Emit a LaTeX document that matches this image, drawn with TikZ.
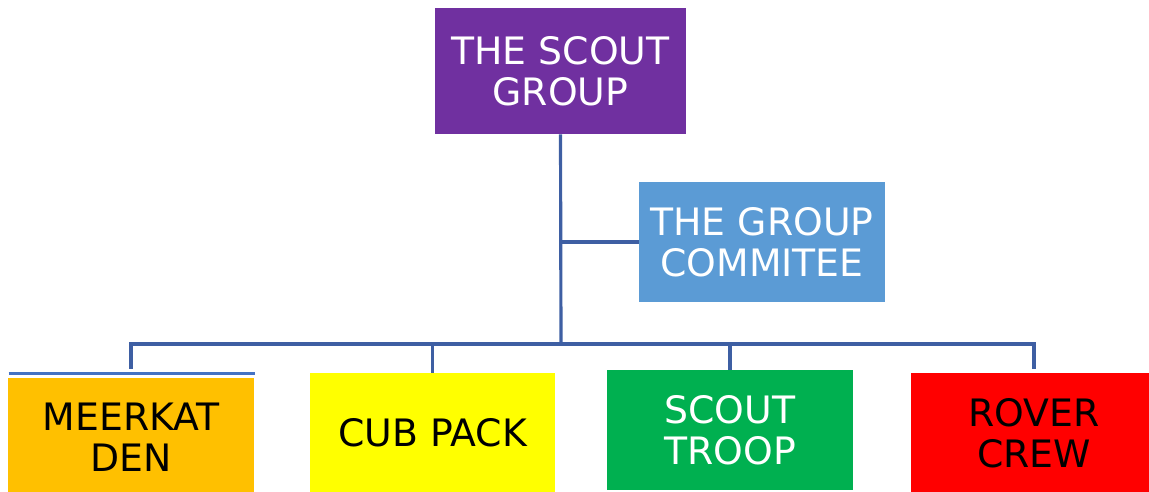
\documentclass[tikz,border=0pt]{standalone}
\usepackage{fontspec}
\setmainfont{DejaVu Sans}
\definecolor{cpurple}{HTML}{7030A0}
\definecolor{cblue}{HTML}{5B9BD5}
\definecolor{corange}{HTML}{FFC000}
\definecolor{cyellow}{HTML}{FFFF00}
\definecolor{cgreen}{HTML}{00B050}
\definecolor{cred}{HTML}{FF0000}
\definecolor{cline}{HTML}{3E5FA3}
\definecolor{cline2}{HTML}{4472C4}
\tikzset{
  box/.style={draw=none, inner sep=0pt, align=center, font=\fontsize{21.5}{23.5}\selectfont},
  conn/.style={draw=cline, line width=1.8pt}
}
\begin{document}
\begin{tikzpicture}[x=0.02cm,y=-0.02cm]
\useasboundingbox (0,0) rectangle (1149,492);
\node[box, fill=cpurple, text=white, minimum width=251*0.02cm, minimum height=126*0.02cm] (sg) at (560.5,71) {THE SCOUT\\GROUP};
\node[box, fill=cblue, text=white, minimum width=246*0.02cm, minimum height=120*0.02cm] (gc) at (762,242) {THE GROUP\\COMMITEE};
\node[box, fill=corange, text=black, minimum width=246*0.02cm, minimum height=118*0.02cm] (md) at (131,437) {MEERKAT\\DEN};
\node[box, fill=cyellow, text=black, minimum width=245*0.02cm, minimum height=119*0.02cm] (cp) at (432.5,432.5) {CUB PACK};
\node[box, fill=cgreen, text=white, minimum width=246*0.02cm, minimum height=120*0.02cm] (st) at (730,430) {SCOUT\\TROOP};
\node[box, fill=cred, text=black, minimum width=246*0.02cm, minimum height=120*0.02cm] (rc) at (1034,433) {ROVER\\CREW};
\coordinate (hub) at (561,344);
\coordinate (gcj) at (561,242);
\draw[conn] (sg.south) -- (hub);
\draw[conn] (gcj) -- (gc.west);
\draw[conn] (hub) -| (131,369);
\draw[conn] (hub) -| (cp.north);
\draw[conn] (hub) -| (st.north);
\draw[conn] (hub) -| (1034,369);
\draw[draw=cline2, line width=1.8pt] (md.north west) ++(1,-4) coordinate (mdl) -- ++(246,0) coordinate (mdr);
\end{tikzpicture}
\end{document}
